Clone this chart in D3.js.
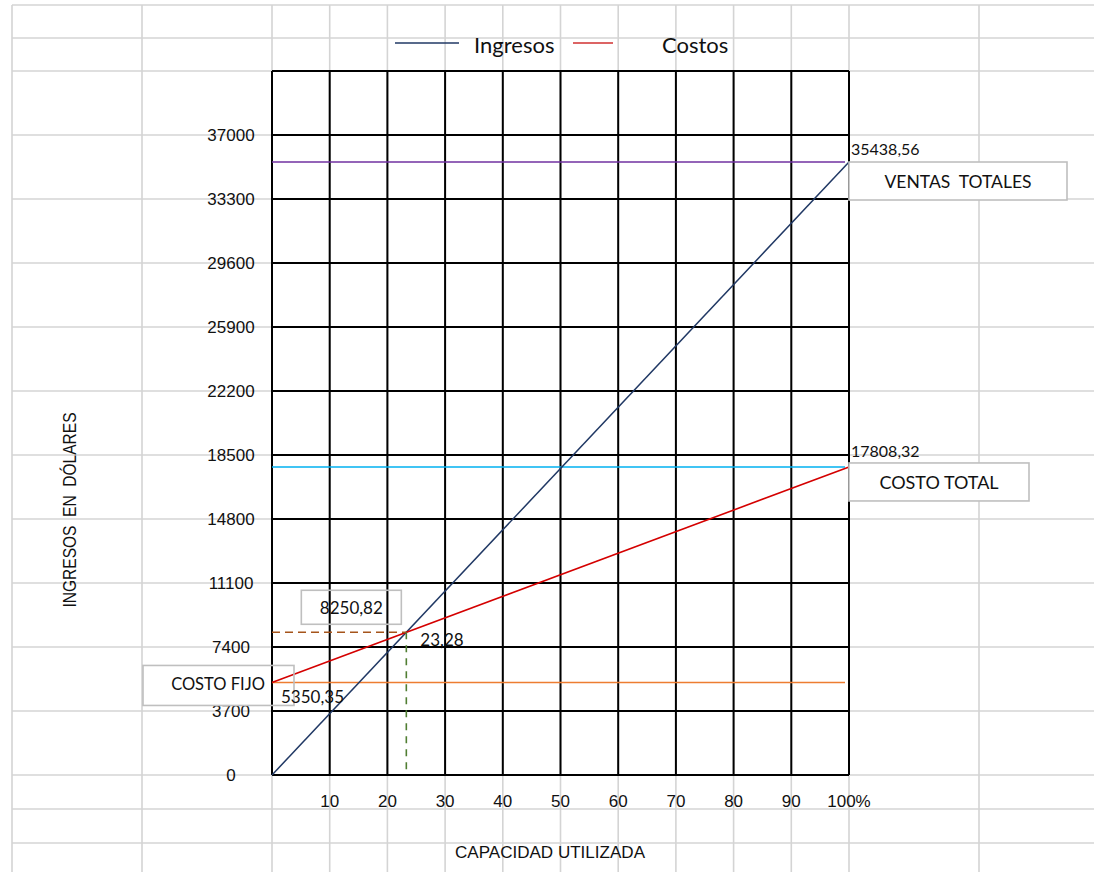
<!DOCTYPE html>
<html>
<head>
<meta charset="utf-8">
<script src="https://cdn.jsdelivr.net/npm/d3@7"></script>
<style>
  html, body { margin: 0; padding: 0; background: #fff; }
  svg { display: block; }
  text { white-space: pre; }
</style>
</head>
<body>
<svg id="chart" width="1094" height="872"></svg>
<script>
// ---- data ----
const capacity = [0, 100];                       // % capacidad utilizada
const ingresos = [0, 35438.56];                  // Ingresos (ventas)
const costos = [5350.35, 17808.32];              // Costos (fijo + variable)
const xTicks = [10, 20, 30, 40, 50, 60, 70, 80, 90, 100];
const xTickLabels = ["10", "20", "30", "40", "50", "60", "70", "80", "90", "100%"];
const yTicks = [0, 3700, 7400, 11100, 14800, 18500, 22200, 25900, 29600, 33300, 37000];
const yMax = 40700;
const ventasTotales = 35438.56;
const costoTotal = 17808.32;
const costoFijo = 5350.35;
const breakEven = [23.28, 8250.82];
const valueLabels = ["35438,56", "17808,32", "5350,35", "8250,82", "23,28"];
const seriesNames = ["Ingresos", "Costos"];

// ---- layout ----
const svg = d3.select("#chart");
const x = d3.scaleLinear().domain([0, 100]).range([272, 849]);
const y = d3.scaleLinear().domain([0, yMax]).range([775, 71]);

const colors = {
  ingresos: "#203864", costos: "#d40000", ventas: "#7030a0",
  total: "#00b0f0", fijo: "#ed7d31", dashH: "#a5541b", dashV: "#507e32"
};

// spreadsheet grid (light gray)
const sheetCols = [12, 142].concat([0].concat(xTicks).map(d => x(d))).concat([979]);
const sheetRows = [5, 38, y(yMax)].concat(yTicks.map(d => y(d))).concat([809, 843]);
const sheet = svg.append("g");
sheet.selectAll("line.c").data(sheetCols).join("line")
  .attr("x1", d => d).attr("x2", d => d).attr("y1", 5).attr("y2", 872)
  .attr("stroke", "#d4d4d4").attr("stroke-width", 1.6);
sheet.selectAll("line.r").data(sheetRows).join("line")
  .attr("x1", 12).attr("x2", 1094).attr("y1", d => d).attr("y2", d => d)
  .attr("stroke", "#d4d4d4").attr("stroke-width", 1.6);

// black plot grid
const grid = svg.append("g");
grid.selectAll("line.h").data(yTicks.concat([yMax])).join("line")
  .attr("x1", x(0)).attr("x2", x(100)).attr("y1", d => y(d)).attr("y2", d => y(d))
  .attr("stroke", "#000").attr("stroke-width", 2);
grid.selectAll("line.v").data([0].concat(xTicks)).join("line")
  .attr("x1", d => x(d)).attr("x2", d => x(d)).attr("y1", y(yMax)).attr("y2", y(0))
  .attr("stroke", "#000").attr("stroke-width", 2);

// y tick labels
svg.append("g").selectAll("text").data(yTicks).join("text")
  .attr("x", 231).attr("y", d => y(d)).attr("dy", "0.35em")
  .attr("text-anchor", "middle")
  .style("font-family", "'Liberation Sans', Arial, sans-serif").style("font-size", "17px")
  .attr("fill", "#111").text(d => d);

// x tick labels
svg.append("g").selectAll("text").data(xTicks).join("text")
  .attr("x", d => x(d)).attr("y", 801).attr("dy", "0.35em")
  .attr("text-anchor", "middle")
  .style("font-family", "'Liberation Sans', Arial, sans-serif").style("font-size", "17px")
  .attr("fill", "#111").text((d, i) => xTickLabels[i]);

// axis titles
svg.append("text")
  .attr("transform", "translate(70,510) rotate(-90)")
  .attr("text-anchor", "middle").attr("dy", "0.35em")
  .attr("textLength", 195).attr("lengthAdjust", "spacingAndGlyphs")
  .style("font-family", "'Liberation Sans', Arial, sans-serif").style("font-size", "18px")
  .attr("fill", "#111").text("INGRESOS  EN  DÓLARES");
svg.append("text")
  .attr("x", 550).attr("y", 852).attr("dy", "0.35em")
  .attr("text-anchor", "middle")
  .attr("textLength", 190).attr("lengthAdjust", "spacingAndGlyphs")
  .style("font-family", "'Liberation Sans', Arial, sans-serif").style("font-size", "16px")
  .attr("fill", "#111").text("CAPACIDAD UTILIZADA");

// reference horizontal lines
const hLine = (v, c) => svg.append("line")
  .attr("x1", x(0)).attr("x2", x(100) - 4).attr("y1", y(v)).attr("y2", y(v))
  .attr("stroke", c).attr("stroke-width", 1.6);
hLine(ventasTotales, colors.ventas);
hLine(costoTotal, colors.total);
hLine(costoFijo, colors.fijo);

// series
const line = d3.line().x(d => x(d[0])).y(d => y(d[1]));
svg.append("path").datum(capacity.map((c, i) => [c, ingresos[i]]))
  .attr("d", line).attr("fill", "none").attr("stroke", colors.ingresos).attr("stroke-width", 1.5);
svg.append("path").datum(capacity.map((c, i) => [c, costos[i]]))
  .attr("d", line).attr("fill", "none").attr("stroke", colors.costos).attr("stroke-width", 1.6);

// break-even dashed guides
svg.append("line")
  .attr("x1", x(0)).attr("x2", x(breakEven[0])).attr("y1", y(breakEven[1])).attr("y2", y(breakEven[1]))
  .attr("stroke", colors.dashH).attr("stroke-width", 1.6).attr("stroke-dasharray", "8,5");
svg.append("line")
  .attr("x1", x(breakEven[0])).attr("x2", x(breakEven[0])).attr("y1", y(breakEven[1])).attr("y2", y(0))
  .attr("stroke", colors.dashV).attr("stroke-width", 1.6).attr("stroke-dasharray", "7,6");

// annotations
const annFont = "Lato, 'Open Sans', sans-serif";
const txt = (tx, ty, s, size, anchor) => svg.append("text")
  .attr("x", tx).attr("y", ty).attr("dy", "0.35em").attr("text-anchor", anchor || "start")
  .style("font-family", annFont).style("font-size", size + "px").attr("fill", "#111").text(s);
const box = (bx, by, w, h, fill) => svg.append("rect")
  .attr("x", bx).attr("y", by).attr("width", w).attr("height", h)
  .attr("fill", fill).attr("stroke", "#bfbfbf").attr("stroke-width", 1.6);

// ventas totales
txt(x(100) + 2, y(ventasTotales) - 13, valueLabels[0], 16);
box(x(100), y(ventasTotales), 218, 38, "#fff");
txt(x(100) + 109, y(ventasTotales) + 20, "VENTAS  TOTALES", 17.5, "middle");
// costo total
txt(x(100) + 2, y(costoTotal) - 16, valueLabels[1], 16);
box(x(100), y(costoTotal) - 4, 180, 38, "#fff");
txt(x(100) + 90, y(costoTotal) + 16, "COSTO TOTAL", 18, "middle");
// costo fijo
box(x(0) - 129, y(costoFijo) - 17, 151, 40, "none");
txt(x(0) - 54, y(costoFijo) + 2, "COSTO FIJO", 16.5, "middle");
txt(x(0) + 9, y(costoFijo) + 15, valueLabels[2], 17);
// break-even
box(x(breakEven[0]) - 105, y(breakEven[1]) - 42, 100, 34, "none");
txt(x(breakEven[0]) - 55, y(breakEven[1]) - 24, valueLabels[3], 17, "middle");
txt(x(breakEven[0]) + 14, y(breakEven[1]) + 8, valueLabels[4], 17);

// legend
const lg = svg.append("g");
lg.append("line").attr("x1", 395).attr("x2", 459).attr("y1", 43).attr("y2", 43)
  .attr("stroke", colors.ingresos).attr("stroke-width", 1.6);
lg.append("text").attr("x", 474).attr("y", 45).attr("dy", "0.35em")
  .style("font-family", annFont).style("font-size", "22px").attr("fill", "#111").text(seriesNames[0]);
lg.append("line").attr("x1", 573).attr("x2", 613).attr("y1", 43).attr("y2", 43)
  .attr("stroke", "#d03030").attr("stroke-width", 1.6);
lg.append("text").attr("x", 662).attr("y", 45).attr("dy", "0.35em")
  .style("font-family", annFont).style("font-size", "22px").attr("fill", "#111").text(seriesNames[1]);
</script>
</body>
</html>
